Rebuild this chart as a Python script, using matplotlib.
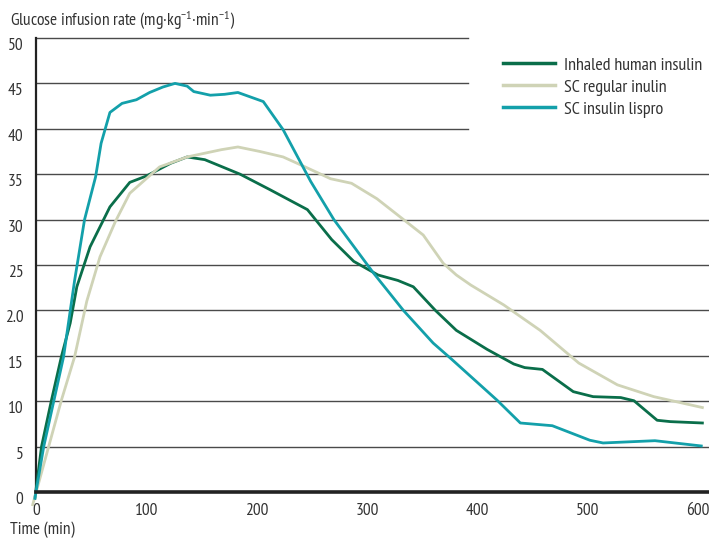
"""
Glucose infusion rate over time: inhaled vs subcutaneous insulin.
"""

import matplotlib
matplotlib.use("Agg")
import matplotlib.pyplot as plt
from matplotlib.transforms import ScaledTranslation

plt.rcParams["font.family"] = ["PT Sans Narrow", "DejaVu Sans"]
plt.rcParams["mathtext.fontset"] = "custom"
plt.rcParams["mathtext.rm"] = "PT Sans Narrow"
plt.rcParams["mathtext.it"] = "PT Sans Narrow"
plt.rcParams["mathtext.bf"] = "PT Sans Narrow"

# minutes / mg·kg-1·min-1
INHALED_T = [-1, 5, 14, 23, 31, 37, 49, 67, 85, 100, 122, 137, 153, 185, 212,
             246, 268, 288, 310, 328, 342, 362, 381, 409, 433, 443, 459, 487,
             505, 530, 542, 563, 575, 604]
INHALED_V = [-0.7, 5.0, 10.1, 14.9, 18.6, 22.6, 27.0, 31.4, 34.1, 34.8, 36.2,
             36.9, 36.6, 35.0, 33.3, 31.1, 27.8, 25.4, 23.9, 23.3, 22.6, 20.0,
             17.8, 15.7, 14.1, 13.7, 13.5, 11.05, 10.5, 10.4, 10.05, 7.9, 7.75,
             7.6]

REGULAR_T = [-3, 23, 35, 46, 58, 72, 85, 112, 137, 168, 183, 203, 224, 244,
             267, 286, 309, 330, 351, 369, 381, 394, 424, 457, 492, 527, 560,
             604]
REGULAR_V = [-1.4, 10.1, 14.9, 21.0, 25.9, 29.8, 32.9, 35.8, 36.9, 37.7, 38.0,
             37.5, 36.9, 35.8, 34.5, 34.0, 32.3, 30.3, 28.3, 25.2, 23.9, 22.8,
             20.6, 17.8, 14.2, 11.8, 10.5, 9.3]

LISPRO_T = [-1, 7, 25, 35, 44, 54, 59, 67, 78, 91, 103, 115, 126, 137, 143,
            158, 171, 183, 206, 224, 249, 270, 306, 333, 360, 376, 418, 439,
            468, 502, 514, 561, 603]
LISPRO_V = [-0.7, 5.0, 14.9, 23.3, 30.0, 34.7, 38.4, 41.8, 42.8, 43.2, 44.0,
            44.6, 45.0, 44.7, 44.1, 43.7, 43.8, 44.0, 43.0, 39.9, 34.2, 30.0,
            24.1, 20.0, 16.4, 14.7, 10.1, 7.6, 7.3, 5.7, 5.4, 5.65, 5.07]

SERIES = ["Inhaled human insulin", "SC regular inulin", "SC insulin lispro"]
COLORES = ["#0a6e4a", "#cfd3b6", "#13a0aa"]

Y_TICKS = [0, 5, 10, 15, 20, 25, 30, 35, 40, 45, 50]
Y_LABELS = ["0", "5", "10", "15", "2.0", "25", "30", "35", "40", "45", "50"]
X_TICKS = [0, 100, 200, 300, 400, 500, 600]

TEXT_COLOR = "#333333"
GRID_COLOR = "#4a4a4a"
FS = 12.5

fig = plt.figure(figsize=(7.09, 5.40), dpi=100)
ax = fig.add_axes([36 / 709, 48 / 540, 1 - 36 / 709, 454 / 540])
ax.set_xlim(0, 610)
ax.set_ylim(0, 50)

# horizontal rules: the top three stop short to leave room for the legend
for y in Y_TICKS[1:]:
    if y >= 40:
        ax.plot([0, 392], [y, y], color=GRID_COLOR, lw=1.0, zorder=1,
                clip_on=False)
    else:
        ax.axhline(y, color=GRID_COLOR, lw=1.0, zorder=1)

for t, v, nombre, c in zip([INHALED_T, REGULAR_T, LISPRO_T],
                           [INHALED_V, REGULAR_V, LISPRO_V], SERIES, COLORES):
    ax.plot(t, v, color=c, lw=2.0, label=nombre, clip_on=False, zorder=3,
            solid_joinstyle="round")

for s in ["top", "right"]:
    ax.spines[s].set_visible(False)
ax.spines["left"].set_linewidth(1.6)
ax.spines["left"].set_color("#222222")
ax.spines["bottom"].set_linewidth(2.6)
ax.spines["bottom"].set_color("#222222")
ax.spines["bottom"].set_zorder(4)

ax.set_yticks(Y_TICKS)
ax.set_yticklabels(Y_LABELS)
ax.set_xticks(X_TICKS)
ax.tick_params(axis="both", length=0, labelsize=FS, labelcolor=TEXT_COLOR)
ax.tick_params(axis="y", pad=9)
ax.tick_params(axis="x", pad=8)

# labels sit a little below their rule
bajar = ScaledTranslation(0, -6 / 100, fig.dpi_scale_trans)
for lbl in ax.get_yticklabels():
    lbl.set_transform(lbl.get_transform() + bajar)

fig.text(10 / 709, 1 - 21 / 540,
         "Glucose infusion rate (mg·kg$^{-1}$·min$^{-1}$)",
         fontsize=FS, color=TEXT_COLOR, va="center", ha="left")
fig.text(10 / 709, 1 - 530 / 540, "Time (min)",
         fontsize=FS, color=TEXT_COLOR, va="center", ha="left")

leg = fig.legend(loc="upper left", bbox_to_anchor=(494 / 709, 1 - 48 / 540),
                 frameon=False, fontsize=FS + 0.5, handlelength=2.9,
                 handletextpad=0.45, labelspacing=0.3, borderpad=0)
for txt in leg.get_texts():
    txt.set_color(TEXT_COLOR)
for h in leg.get_lines():
    h.set_linewidth(2.5)

fig.savefig("out.png", dpi=100)
